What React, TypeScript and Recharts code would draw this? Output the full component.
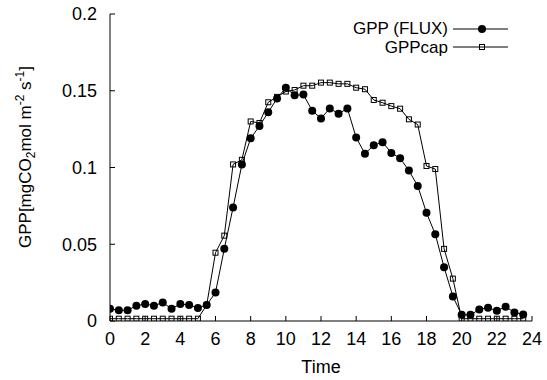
import { LineChart, Line, XAxis, YAxis, Legend } from "recharts";

const hours = [
  0, 0.5, 1, 1.5, 2, 2.5, 3, 3.5, 4, 4.5, 5, 5.5,
  6, 6.5, 7, 7.5, 8, 8.5, 9, 9.5, 10, 10.5, 11, 11.5,
  12, 12.5, 13, 13.5, 14, 14.5, 15, 15.5, 16, 16.5, 17, 17.5,
  18, 18.5, 19, 19.5, 20, 20.5, 21, 21.5, 22, 22.5, 23, 23.5,
];

const gppFlux = [
  0.008, 0.007, 0.007, 0.01, 0.011, 0.01, 0.012, 0.008, 0.011, 0.0105, 0.0085, 0.0105,
  0.0185, 0.047, 0.074, 0.102, 0.119, 0.127, 0.136, 0.145, 0.152, 0.147, 0.1475, 0.137,
  0.132, 0.1385, 0.135, 0.1385, 0.1195, 0.109, 0.1145, 0.1165, 0.1095, 0.106, 0.098, 0.088,
  0.0705, 0.0565, 0.035, 0.016, 0.004, 0.004, 0.0075, 0.0087, 0.0067, 0.0093, 0.0056, 0.0043,
];

const gppCap = [
  0.0015, 0.0015, 0.0015, 0.0015, 0.0015, 0.0015, 0.0015, 0.0015, 0.0015, 0.0015, 0.0015, 0.0105,
  0.0445, 0.0556, 0.102, 0.105, 0.13, 0.129, 0.1425, 0.146, 0.1495, 0.1505, 0.1533, 0.1533,
  0.1553, 0.1553, 0.1545, 0.1545, 0.152, 0.151, 0.144, 0.1422, 0.14, 0.1383, 0.1314, 0.128,
  0.101, 0.099, 0.047, 0.0276, 0.0015, 0.0015, 0.0015, 0.0015, 0.0015, 0.0015, 0.0015, 0.0015,
];

const xTicks = [0, 2, 4, 6, 8, 10, 12, 14, 16, 18, 20, 22, 24];
const yTicks = [0, 0.05, 0.1, 0.15, 0.2];

const data = hours.map((t, i) => ({ t, flux: gppFlux[i], cap: gppCap[i] }));

const font = '"Liberation Sans", Arial, Helvetica, sans-serif';
const tickStyle = { fill: "#000", fontSize: 18, fontFamily: font };

function SquareDot(props: any) {
  const { cx, cy, index } = props;
  if (cx == null || cy == null) return <g key={`sq-${index}`} />;
  return (
    <rect
      key={`sq-${index}`}
      x={cx - 2.5}
      y={cy - 2.5}
      width={5}
      height={5}
      fill="none"
      stroke="#000"
      strokeWidth={1}
    />
  );
}

// key in the top right corner plus the two axis titles, drawn as one overlay
function Overlay({ payload }: any) {
  const names = (payload || []).map((p: any) => p.value);
  const yx = 31;
  const yy = 157;
  return (
    <svg width={547} height={380} style={{ display: "block", pointerEvents: "none" }}>
      <text x={448} y={28.5} dy="0.35em" textAnchor="end" fontSize={17} fontFamily={font} fill="#000">
        {names[0] ?? "GPP (FLUX)"}
      </text>
      <line x1={453} x2={508} y1={29} y2={29} stroke="#000" strokeWidth={1} />
      <circle cx={482} cy={29} r={4} fill="#000" />
      <text x={448} y={47} dy="0.35em" textAnchor="end" fontSize={17} fontFamily={font} fill="#000">
        {names[1] ?? "GPPcap"}
      </text>
      <line x1={453} x2={508} y1={47} y2={47} stroke="#000" strokeWidth={1} />
      <rect x={479.5} y={44.5} width={5} height={5} fill="none" stroke="#000" strokeWidth={1} />

      <text
        x={yx}
        y={yy}
        transform={`rotate(-90, ${yx}, ${yy})`}
        textAnchor="middle"
        fontSize={17}
        fontFamily={font}
        fill="#000"
      >
        GPP[mgCO
        <tspan fontSize={12} dy={4}>2</tspan>
        <tspan dy={-4}>mol m</tspan>
        <tspan fontSize={12} dy={-7}>-2</tspan>
        <tspan dy={7}> s</tspan>
        <tspan fontSize={12} dy={-7}>-1</tspan>
        <tspan dy={7}>]</tspan>
      </text>
      <text x={321} y={373} textAnchor="middle" fontSize={18} fontFamily={font} fill="#000">
        Time
      </text>
    </svg>
  );
}

export default function App() {
  return (
    <div style={{ position: "absolute", left: 0, top: 0, background: "#fff" }}>
      <LineChart
        width={547}
        height={380}
        data={data}
        margin={{ top: 14, right: 15, bottom: 29, left: 50 }}
        style={{ fontFamily: font }}
      >
        <XAxis
          dataKey="t"
          type="number"
          domain={[0, 24]}
          ticks={xTicks}
          allowDataOverflow
          height={30}
          tickSize={-5}
          tickMargin={16}
          tick={tickStyle}
          axisLine={{ stroke: "#000" }}
          tickLine={{ stroke: "#000" }}
        />
        <XAxis
          xAxisId="top"
          dataKey="t"
          type="number"
          orientation="top"
          domain={[0, 24]}
          ticks={xTicks}
          allowDataOverflow
          height={0}
          tickSize={-5}
          tickFormatter={() => ""}
          axisLine={{ stroke: "#000" }}
          tickLine={{ stroke: "#000" }}
        />
        <YAxis
          type="number"
          domain={[0, 0.2]}
          ticks={yTicks}
          allowDataOverflow
          width={60}
          tickSize={-5}
          tickMargin={18}
          tick={tickStyle}
          tickFormatter={(v: number) => String(v)}
          axisLine={{ stroke: "#000" }}
          tickLine={{ stroke: "#000" }}
        />
        <YAxis
          yAxisId="right"
          type="number"
          orientation="right"
          domain={[0, 0.2]}
          ticks={yTicks}
          allowDataOverflow
          width={0}
          tickSize={-5}
          tickFormatter={() => ""}
          axisLine={{ stroke: "#000" }}
          tickLine={{ stroke: "#000" }}
        />
        <Legend
          layout="vertical"
          align="center"
          verticalAlign="middle"
          content={<Overlay />}
          wrapperStyle={{ position: "absolute", left: 0, top: 0, width: 547, height: 380 }}
        />
        <Line
          dataKey="flux"
          name="GPP (FLUX)"
          type="linear"
          stroke="#000"
          strokeWidth={1}
          dot={{ r: 4, fill: "#000", stroke: "#000", strokeWidth: 0 }}
          activeDot={false}
          isAnimationActive={false}
        />
        <Line
          dataKey="cap"
          name="GPPcap"
          type="linear"
          stroke="#000"
          strokeWidth={1}
          dot={<SquareDot />}
          activeDot={false}
          isAnimationActive={false}
        />
      </LineChart>
    </div>
  );
}
